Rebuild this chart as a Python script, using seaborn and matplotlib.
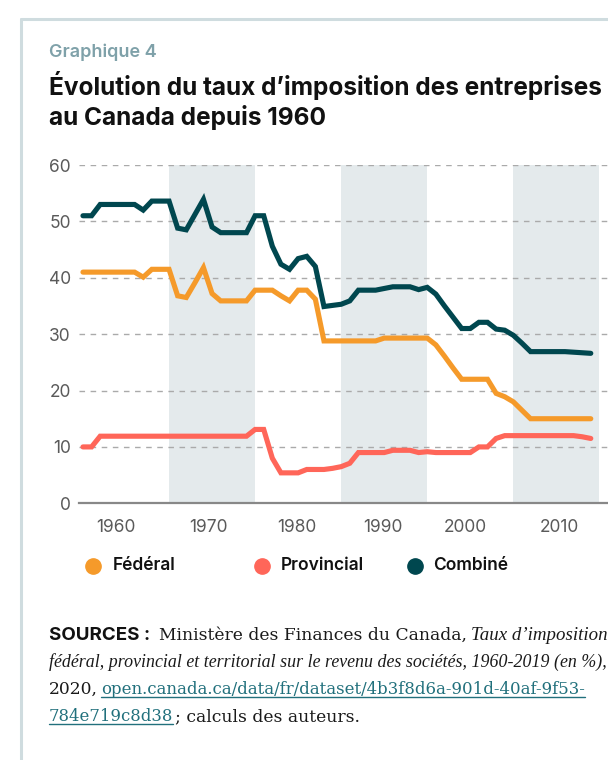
import matplotlib
matplotlib.use('Agg')
import matplotlib.pyplot as plt
import pandas as pd
import seaborn as sns
from matplotlib.lines import Line2D

years = list(range(1960, 2020))

federal = ([41.0] * 7 + [40.1] + [41.5] * 3 + [36.8, 36.5, 39.1, 41.8, 37.2] + [35.9] * 4
           + [37.8] * 3 + [36.8, 35.9] + [37.8] * 2 + [36.2] + [28.8] * 7 + [29.3] * 6
           + [28.1, 26.1, 24.0] + [22.0] * 4 + [19.5, 18.9, 18.0, 16.5] + [15.0] * 8)

provincial = ([10.0] * 2 + [11.9] * 18 + [13.1] * 2 + [8.0] + [5.4] * 3 + [6.0] * 3
              + [6.2, 6.5, 7.1] + [9.0] * 4 + [9.4] * 3 + [9.0, 9.15] + [9.0] * 5
              + [10.0] * 2 + [11.5] + [12.0] * 9 + [11.8, 11.5])

combined = ([51.0] * 2 + [53.0] * 5 + [52.0] + [53.6] * 3 + [48.8, 48.5, 51.2, 53.9, 49.0]
            + [48.0] * 4 + [51.0] * 2 + [45.6, 42.4, 41.5, 43.4, 43.8, 42.0, 34.9, 35.1, 35.3, 35.9]
            + [37.8] * 3 + [38.1] + [38.4] * 3 + [37.9, 38.3, 37.1, 35.0, 33.0] + [31.0] * 2
            + [32.1] * 2 + [30.9, 30.7, 29.8, 28.4] + [26.9] * 5 + [26.8, 26.7, 26.6])

series = ['Fédéral', 'Provincial', 'Combiné']
colors = {'Fédéral': '#F59A2A', 'Provincial': '#FF6659', 'Combiné': '#00474F'}

shaded_decades = [(1970, 1980), (1990, 2000), (2010, 2020)]
xtick_pos = [1963.8, 1974.6, 1984.8, 1994.8, 2004.4, 2015.4]
xtick_labels = ['1960', '1970', '1980', '1990', '2000', '2010']
yticks = [0, 10, 20, 30, 40, 50, 60]

df = pd.DataFrame({'year': years, 'Fédéral': federal, 'Provincial': provincial, 'Combiné': combined})
df = df.melt(id_vars=['year'], var_name='serie', value_name='taux')

############################################################################

sns.set_style('white')
plt.rcParams['font.family'] = ['Inter', 'DejaVu Sans']

W, H = 608, 760
fig = plt.figure(figsize=(W / 100, H / 100), dpi=100)

px_year = 8.69
x0 = 1960 - 4 / px_year
ax = fig.add_axes([79 / W, (H - 503.3) / H, (W - 79) / W, (503.3 - 165) / H])
ax.set_xlim(x0, x0 + (W - 79) / px_year)
ax.set_ylim(0, 60)

for a, b in shaded_decades:
    ax.axvspan(a, b, color='#E4EAEC', lw=0, zorder=0)

sns.lineplot(data=df, x='year', y='taux', hue='serie', hue_order=series, palette=colors,
             linewidth=3.7, legend=False, ax=ax, zorder=3,
             solid_capstyle='round', solid_joinstyle='miter')

ax.set_axisbelow(True)
ax.yaxis.grid(True, linestyle=(0, (4, 4)), color='#AAAAAA', linewidth=1)
ax.xaxis.grid(False)
for s in ['top', 'right', 'left']:
    ax.spines[s].set_visible(False)
ax.spines['bottom'].set_color('#888888')
ax.spines['bottom'].set_linewidth(1.6)

ax.set_yticks(yticks)
ax.set_yticklabels([str(v) for v in yticks])
ax.tick_params(axis='y', length=0, pad=6, labelsize=12.5, labelcolor='#5A5A5A')

ax.set_xticks(xtick_pos)
ax.set_xticklabels(xtick_labels)
ax.set_xticks(list(range(1960, 2022)), minor=True)
ax.tick_params(axis='x', which='major', length=0, pad=11, labelsize=12.5, labelcolor='#5A5A5A')
ax.tick_params(axis='x', which='minor', length=3, width=0.9, color='#333333', direction='out')
ax.set_xlabel(None)
ax.set_ylabel(None)

# frame
fig.add_artist(Line2D([21 / W, 1], [1 - 19 / H, 1 - 19 / H], color='#CFDCDF', lw=2.2,
                      transform=fig.transFigure))
fig.add_artist(Line2D([21 / W, 21 / W], [0, 1 - 19 / H], color='#CFDCDF', lw=2.2,
                      transform=fig.transFigure))

# titles
fig.text(49 / W, 1 - 52 / H, 'Graphique 4', fontsize=13, fontweight='semibold', color='#7FA1A9',
         va='center', ha='left')
fig.text(49 / W, 1 - 86 / H, 'Évolution du taux d’imposition des entreprises', fontsize=17.6,
         fontweight='bold', color='#111111', va='center', ha='left')
fig.text(49 / W, 1 - 118 / H, 'au Canada depuis 1960', fontsize=17.6,
         fontweight='bold', color='#111111', va='center', ha='left')

# legend
legend_x = [(93, 113), (262, 281), (415, 433)]
for name, (mx, tx) in zip(series, legend_x):
    fig.add_artist(Line2D([mx / W], [1 - 566 / H], marker='o', markersize=11, color=colors[name],
                          lw=0, transform=fig.transFigure))
    fig.text(tx / W, 1 - 566 / H, name, fontsize=12.5, fontweight='semibold', color='#111111',
             va='center', ha='left')

# sources
renderer = fig.canvas.get_renderer()
link_color = '#21707C'


def write_line(pieces, x, y):
    for text, kw, gap in pieces:
        underline = kw.pop('underline', False)
        t = fig.text(x / W, 1 - y / H, text, va='baseline', ha='left', **kw)
        bb = t.get_window_extent(renderer)
        if underline:
            fig.add_artist(Line2D([bb.x0 / W, bb.x1 / W], [1 - (y + 3) / H, 1 - (y + 3) / H],
                                  color=link_color, lw=1, transform=fig.transFigure))
        x = bb.x1 + gap


reg = dict(family='DejaVu Serif', fontsize=12.3, color='#1A1A1A')
ita = dict(family='Liberation Serif', fontsize=13.6, color='#1A1A1A', style='italic')
lnk = dict(family='DejaVu Serif', fontsize=11.9, color=link_color, underline=True)

write_line([('SOURCES :', dict(fontsize=13.5, fontweight='bold', color='#111111'), 9),
            ('Ministère des Finances du Canada,', dict(reg), 4),
            ('Taux d’imposition', dict(ita), 5)], 49, 640)
write_line([('fédéral, provincial et territorial sur le revenu des sociétés, 1960-2019 (en %),',
             dict(ita, fontsize=12.9), 0)], 49, 667)
write_line([('2020,', dict(reg), 3),
            ('open.canada.ca/data/fr/dataset/4b3f8d6a-901d-40af-9f53-', dict(lnk), 0)], 49, 694)
write_line([('784e719c8d38', dict(lnk), 2),
            ('; calculs des auteurs.', dict(reg), 0)], 49, 721)

fig.savefig('out.png', dpi=100)
